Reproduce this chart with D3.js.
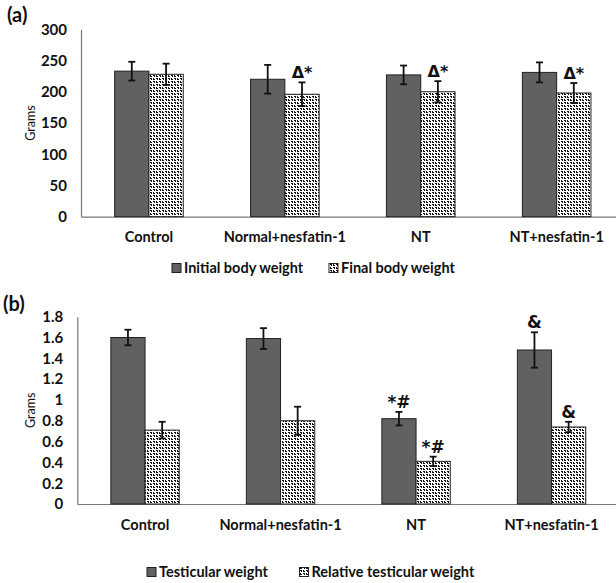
<!DOCTYPE html>
<html>
<head>
<meta charset="utf-8">
<script src="https://cdn.jsdelivr.net/npm/d3@7"></script>
<style>
  body { margin: 0; background: #fff; }
  text { font-family: Lato, "Open Sans", sans-serif; }
</style>
</head>
<body>
<script>
// groupes
const groups = ["Control", "Normal+nesfatin-1", "NT", "NT+nesfatin-1"]

// (a) poids corporel
const initialWeight = [233, 220, 227, 231]
const initialErr = [15, 23, 15, 16]
const finalWeight = [228, 196, 200, 198]
const finalErr = [17, 19, 17, 16]
const bodyMarks = [["", ""], ["", "Δ*"], ["", "Δ*"], ["", "Δ*"]]
const bodyTicks = [0, 50, 100, 150, 200, 250, 300]
const bodyTickLabels = ["0", "50", "100", "150", "200", "250", "300"]
const bodyLegend = ["Initial body weight", "Final body weight"]

// (b) poids testiculaire
const testWeight = [1.60, 1.59, 0.82, 1.48]
const testErr = [0.075, 0.10, 0.065, 0.17]
const relWeight = [0.71, 0.80, 0.41, 0.74]
const relErr = [0.08, 0.135, 0.045, 0.05]
const testMarks = [["", ""], ["", ""], ["*#", "*#"], ["&", "&"]]
const testTicks = [0, 0.2, 0.4, 0.6, 0.8, 1, 1.2, 1.4, 1.6, 1.8]
const testTickLabels = ["0", "0.2", "0.4", "0.6", "0.8", "1", "1.2", "1.4", "1.6", "1.8"]
const testLegend = ["Testicular weight", "Relative testicular weight"]

const svg = d3.select("body").append("svg")
    .attr("width", 616)
    .attr("height", 583)

// motif "confetti" pour la 2e série
const defs = svg.append("defs")
const pat = defs.append("pattern")
    .attr("id", "dots")
    .attr("patternUnits", "userSpaceOnUse")
    .attr("width", 6).attr("height", 6)
pat.append("rect").attr("width", 6).attr("height", 6).attr("fill", "#fff")
const cells = [[0, 0, 2, 1], [1, 1, 1, 1], [3, 0, 1, 1], [3, 1, 2, 1],
               [0, 3, 1, 1], [0, 4, 2, 1], [3, 3, 2, 1], [4, 4, 1, 1]]
pat.selectAll("rect.c").data(cells).join("rect")
    .attr("class", "c")
    .attr("x", d => d[0]).attr("y", d => d[1])
    .attr("width", d => d[2]).attr("height", d => d[3])
    .attr("fill", "#111")

const fills = ["#616161", "url(#dots)"]

function drawPanel(p) {
    const g = svg.append("g")

    const x = d3.scaleBand()
        .domain(groups)
        .range(p.xRange)

    const y = d3.scaleLinear()
        .domain([0, p.yMax])
        .range(p.yRange)

    const barW = p.barW

    // Axe Y
    const yAxis = g.append("g")
        .attr("transform", "translate(" + p.xRange[0] + ",0)")
        .call(d3.axisLeft(y).tickValues(p.ticks).tickFormat((d, i) => p.tickLabels[i]).tickSize(0).tickPadding(14))
    yAxis.selectAll("text")
        .style("font-size", "15px").style("font-weight", "bold").attr("fill", "#111")

    // Axe X
    const xAxis = g.append("g")
        .attr("transform", "translate(0," + p.yRange[0] + ")")
        .call(d3.axisBottom(x).tickSize(0).tickPadding(p.labelPad))
    xAxis.selectAll("text")
        .style("font-size", "14.5px").style("font-weight", "bold").attr("fill", "#111")

    g.selectAll(".domain").attr("stroke", "#777").attr("stroke-width", 1.2)

    // Barres
    p.series.forEach((s, k) => {
        g.selectAll(".bar" + k)
            .data(s.values)
            .join("rect")
            .attr("class", "bar" + k)
            .attr("x", (d, i) => x(groups[i]) + x.bandwidth() / 2 - barW + k * barW)
            .attr("y", d => y(d))
            .attr("width", barW)
            .attr("height", d => y(0) - y(d))
            .attr("fill", fills[k])
            .attr("stroke", "#222")
            .attr("stroke-width", 1)

        // Barres d'erreur
        const cx = i => x(groups[i]) + x.bandwidth() / 2 - barW / 2 + k * barW
        const eb = g.selectAll(".err" + k)
            .data(s.values)
            .join("g")
            .attr("class", "err" + k)
            .attr("stroke", "#111")
            .attr("stroke-width", 1.8)
        eb.append("line")
            .attr("x1", (d, i) => cx(i)).attr("x2", (d, i) => cx(i))
            .attr("y1", (d, i) => y(d + s.err[i])).attr("y2", (d, i) => y(d - s.err[i]))
        eb.append("line")
            .attr("x1", (d, i) => cx(i) - 3.5).attr("x2", (d, i) => cx(i) + 3.5)
            .attr("y1", (d, i) => y(d + s.err[i])).attr("y2", (d, i) => y(d + s.err[i]))
        eb.append("line")
            .attr("x1", (d, i) => cx(i) - 3.5).attr("x2", (d, i) => cx(i) + 3.5)
            .attr("y1", (d, i) => y(d - s.err[i])).attr("y2", (d, i) => y(d - s.err[i]))

        // Signes de significativité
        g.selectAll(".mark" + k)
            .data(s.values)
            .join("text")
            .attr("class", "mark" + k)
            .attr("x", (d, i) => cx(i))
            .attr("y", (d, i) => y(d + s.err[i]) - 4)
            .attr("text-anchor", "middle")
            .style("font-family", "'DejaVu Sans', sans-serif")
            .style("font-size", p.markSize + "px")
            .style("font-weight", "bold")
            .attr("fill", "#111")
            .text((d, i) => p.marks[i][k])
    })

    // Titre Y
    g.append("text")
        .attr("transform", "translate(" + p.gramsX + "," + (p.yRange[0] + p.yRange[1]) / 2 + ") rotate(-90)")
        .attr("text-anchor", "middle")
        .attr("dy", "0.35em")
        .style("font-size", "12.5px")
        .attr("fill", "#111")
        .text("Grams")

    // Lettre du panneau
    g.append("text")
        .attr("x", p.letterX).attr("y", p.letterY)
        .style("font-size", "20px").style("font-weight", "bold")
        .attr("fill", "#111")
        .text(p.letter)

    // Légende
    p.legend.forEach((name, k) => {
        const lx = p.legendX[k]
        g.append("rect")
            .attr("x", lx).attr("y", p.legendY - 4.5)
            .attr("width", 9).attr("height", 9)
            .attr("fill", fills[k])
            .attr("stroke", "#222")
        g.append("text")
            .attr("x", lx + 12).attr("y", p.legendY)
            .attr("dy", "0.35em")
            .style("font-size", "14.5px").style("font-weight", "bold")
            .attr("fill", "#111")
            .text(name)
    })
}

drawPanel({
    letter: "(a)", letterX: 7, letterY: 22,
    xRange: [81, 624.6], yRange: [216.7, 29.3], yMax: 300, barW: 34.3,
    ticks: bodyTicks, tickLabels: bodyTickLabels, labelPad: 15,
    series: [{ values: initialWeight, err: initialErr }, { values: finalWeight, err: finalErr }],
    marks: bodyMarks, markSize: 16,
    gramsX: 31, legend: bodyLegend, legendX: [172, 329], legendY: 268
})

drawPanel({
    letter: "(b)", letterX: 3, letterY: 311,
    xRange: [77.3, 619.3], yRange: [504, 316.7], yMax: 1.8, barW: 34.2,
    ticks: testTicks, tickLabels: testTickLabels, labelPad: 16,
    series: [{ values: testWeight, err: testErr }, { values: relWeight, err: relErr }],
    marks: testMarks, markSize: 17,
    gramsX: 31, legend: testLegend, legendX: [147, 299.5], legendY: 572
})
</script>
</body>
</html>
